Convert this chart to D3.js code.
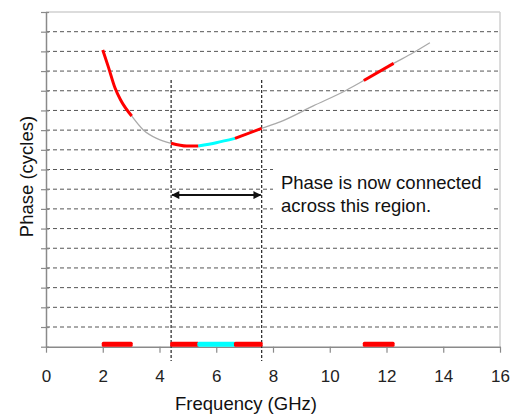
<!DOCTYPE html>
<html>
<head>
<meta charset="utf-8">
<script src="https://cdn.jsdelivr.net/npm/d3@7"></script>
<style>
  body { margin: 0; background: #fff; }
  svg { font-family: "Liberation Sans", Arial, Helvetica, sans-serif; }
</style>
</head>
<body>
<div id="chart"></div>
<script>
// Phase curve
const freq  = [2.00, 2.20, 2.43, 2.63, 3.02, 3.43, 3.90, 4.41, 4.96, 5.37, 6.00, 6.66, 7.60, 8.25, 9.42, 10.60, 11.20, 12.25, 12.94, 13.53];
const phase = [15.07, 14.20, 13.15, 12.53, 11.72, 11.01, 10.58, 10.33, 10.19, 10.19, 10.36, 10.58, 11.09, 11.42, 12.23, 13.04, 13.52, 14.39, 14.93, 15.44];

// Highlighted frequency ranges: [start, end, colour]
const segStart = [2.00, 4.41, 5.37, 6.66, 11.20];
const segEnd   = [3.02, 5.37, 6.66, 7.60, 12.25];
const segColor = ["red", "red", "cyan", "red", "red"];

const xTicks = [0, 2, 4, 6, 8, 10, 12, 14, 16];
const yTicks = d3.range(0, 18);

const markerFreq = [4.41, 7.60];
const noteLines = ["Phase is now connected", "across this region."];

function drawChart() {
    const margin = { top: 12, right: 20, bottom: 71.3, left: 46 };
    const width = 520 - margin.left - margin.right;
    const height = 418 - margin.top - margin.bottom;

    const svg = d3.select("#chart").append("svg")
        .attr("width", 520)
        .attr("height", 418)
        .append("g")
        .attr("transform", "translate(" + margin.left + "," + margin.top + ")");

    const x = d3.scaleLinear().domain([0, 16]).range([0, width]);
    const y = d3.scaleLinear().domain([0, 17]).range([height, 0]);

    // Horizontal dashed grid + light frame on top/right
    svg.append("g").selectAll("line")
        .data(yTicks.filter(v => v > 0 && v < 17))
        .join("line")
        .attr("x1", 0).attr("x2", width)
        .attr("y1", d => y(d)).attr("y2", d => y(d))
        .attr("stroke", "#555").attr("stroke-width", 1)
        .attr("stroke-dasharray", "4,3");
    svg.append("line")
        .attr("x1", 0).attr("x2", width).attr("y1", y(17)).attr("y2", y(17))
        .attr("stroke", "#d0d0d0").attr("stroke-width", 1.5);
    svg.append("line")
        .attr("x1", width).attr("x2", width).attr("y1", y(17)).attr("y2", y(0))
        .attr("stroke", "#d0d0d0").attr("stroke-width", 1.5);

    // Axes
    const xAxis = svg.append("g")
        .attr("transform", "translate(0," + height + ")")
        .call(d3.axisBottom(x).tickValues(xTicks).tickSizeInner(6).tickSizeOuter(0).tickPadding(17));
    const yAxis = svg.append("g")
        .call(d3.axisLeft(y).tickValues(yTicks).tickFormat("").tickSizeInner(5).tickSizeOuter(0));
    [xAxis, yAxis].forEach(a => {
        a.select(".domain").attr("stroke", "#8a8a8a").attr("stroke-width", 1.5);
        a.selectAll(".tick line").attr("stroke", "#8a8a8a").attr("stroke-width", 1.2);
    });
    yAxis.selectAll(".tick line").attr("x2", -5).attr("x1", 3);
    xAxis.selectAll(".tick text").attr("font-size", "17px").attr("fill", "#222");

    // Note box hides the grid behind the text
    svg.append("rect")
        .attr("x", x(8.0)).attr("y", y(9.6))
        .attr("width", x(15.7) - x(8.0))
        .attr("height", y(6.4) - y(9.6))
        .attr("fill", "#fff");

    // Vertical dashed markers
    svg.append("g").selectAll("line")
        .data(markerFreq)
        .join("line")
        .attr("x1", d => x(d)).attr("x2", d => x(d))
        .attr("y1", y(13.55)).attr("y2", y(-0.73))
        .attr("stroke", "#333").attr("stroke-width", 1.3)
        .attr("stroke-dasharray", "3,2");

    // Curve
    const pts = freq.map((f, i) => ({ f: f, p: phase[i] }));
    const line = d3.line().x(d => x(d.f)).y(d => y(d.p)).curve(d3.curveMonotoneX);

    svg.append("path")
        .datum(pts)
        .attr("fill", "none")
        .attr("stroke", "#aaaaaa")
        .attr("stroke-width", 1.3)
        .attr("d", line);

    segStart.forEach((s, i) => {
        const part = pts.filter(d => d.f >= s - 1e-6 && d.f <= segEnd[i] + 1e-6);
        svg.append("path")
            .datum(part)
            .attr("fill", "none")
            .attr("stroke", segColor[i])
            .attr("stroke-width", 3)
            .attr("d", line);
    });

    // Bars along the frequency axis
    svg.append("g").selectAll("rect")
        .data(segStart)
        .join("rect")
        .attr("x", d => x(d) - 1)
        .attr("width", (d, i) => x(segEnd[i]) - x(d) + 2)
        .attr("y", y(0) - 5)
        .attr("height", 5)
        .attr("rx", 1.5)
        .attr("fill", (d, i) => segColor[i]);

    // Double arrow
    const defs = svg.append("defs");
    defs.append("marker")
        .attr("id", "arrow")
        .attr("viewBox", "0 0 10 10")
        .attr("refX", 9).attr("refY", 5)
        .attr("markerWidth", 5).attr("markerHeight", 4)
        .attr("orient", "auto-start-reverse")
        .attr("markerUnits", "strokeWidth")
        .append("path").attr("d", "M0,0L10,5L0,10Z").attr("fill", "#111");
    svg.append("line")
        .attr("x1", x(markerFreq[0]) + 1).attr("x2", x(markerFreq[1]) - 1)
        .attr("y1", y(7.7)).attr("y2", y(7.7))
        .attr("stroke", "#111").attr("stroke-width", 2)
        .attr("marker-start", "url(#arrow)")
        .attr("marker-end", "url(#arrow)");

    // Note
    svg.append("text")
        .attr("x", x(8.28)).attr("y", y(8.03))
        .attr("font-size", "18.5px").attr("fill", "#111")
        .selectAll("tspan")
        .data(noteLines)
        .join("tspan")
        .attr("x", x(8.28))
        .attr("dy", (d, i) => i === 0 ? 0 : 23)
        .text(d => d);

    // Axis labels
    svg.append("text")
        .attr("x", 200).attr("y", height + 63)
        .attr("text-anchor", "middle")
        .attr("font-size", "18.5px").attr("fill", "#111")
        .text("Frequency (GHz)");
    svg.append("text")
        .attr("transform", "rotate(-90)")
        .attr("x", -(176.5 - margin.top)).attr("y", -13)
        .attr("text-anchor", "middle")
        .attr("font-size", "18.5px").attr("fill", "#111")
        .text("Phase (cycles)");
}

drawChart();
</script>
</body>
</html>
